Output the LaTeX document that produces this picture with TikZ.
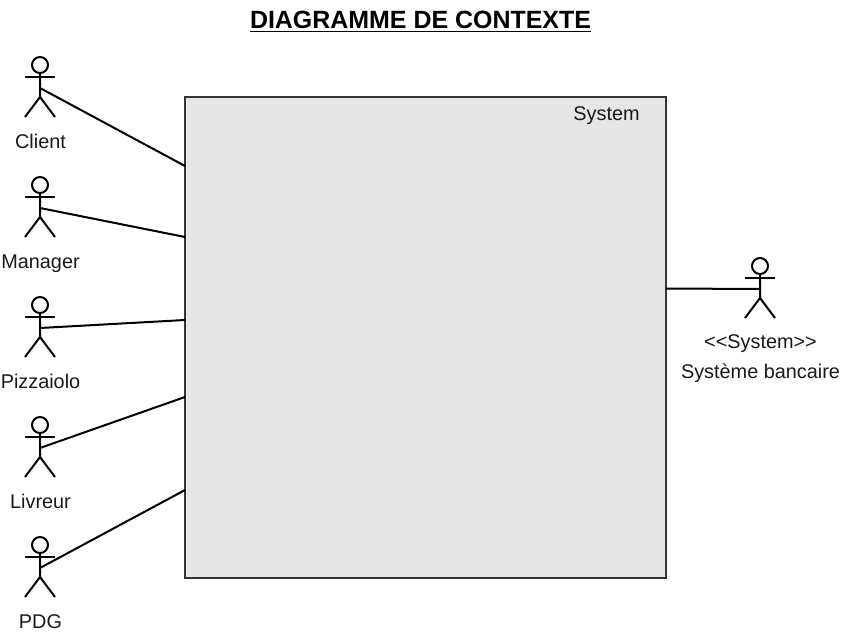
\documentclass[tikz,border=0pt]{standalone}
\usepackage{fontspec}
\setmainfont{Liberation Sans}
\usepackage{xcolor}
\definecolor{boxgray}{HTML}{E6E6E6}
\tikzset{
    main/.style = {line width=0.4mm, black},
    lbl/.style = {font=\fontsize{11.3}{13}\selectfont, text=black!90, inner sep=0pt, anchor=base},
    actor/.pic = {
        \draw[main] (0,0) circle (8);
        \draw[main] (0,8) -- (0,32) -- (-15,52);
        \draw[main] (0,32) -- (15,52);
        \draw[main] (-15,12) -- (15,12);
        \coordinate (-hub) at (0,23);
    }
}
\begin{document}
\begin{tikzpicture}[x=0.02cm, y=-0.02cm]
    \useasboundingbox (0,0) rectangle (841,635);

    \node [font=\fontsize{14.2}{17}\selectfont\bfseries, inner sep=1pt] (title) at (420.5,21.5) {\underline{DIAGRAMME DE CONTEXTE}};

    \node [main, draw=black!80, fill=boxgray, minimum width=9.62cm, minimum height=9.62cm, outer sep=0pt] (sys) at (425.5,337.5) {};
    \node [lbl] (systxt) at (606.5,120.5) {System};

    \pic (client) at (40,65) {actor};
    \pic (manager) at (40,185) {actor};
    \pic (pizzaiolo) at (40,305) {actor};
    \pic (livreur) at (40,425) {actor};
    \pic (pdg) at (40,545) {actor};
    \pic (banque) at (760,266) {actor};

    \node [lbl] (l1) at (40.5,148) {Client};
    \node [lbl] (l2) at (40.5,268) {Manager};
    \node [lbl] (l3) at (40.5,388) {Pizzaiolo};
    \node [lbl] (l4) at (40.5,508) {Livreur};
    \node [lbl] (l5) at (40.5,628) {PDG};
    \node [lbl] (l6) at (760.5,348) {<{}<System>{}>};
    \node [lbl] (l7) at (760.5,378) {Système bancaire};

    \coordinate (p1) at (185,166);
    \coordinate (p2) at (185,237);
    \coordinate (p3) at (185,320);
    \coordinate (p4) at (185,397);
    \coordinate (p5) at (185,490);
    \coordinate (p6) at (666,288.5);

    \draw[main] (client-hub) -- (p1);
    \draw[main] (manager-hub) -- (p2);
    \draw[main] (pizzaiolo-hub) -- (p3);
    \draw[main] (livreur-hub) -- (p4);
    \draw[main] (pdg-hub) -- (p5);
    \draw[main] (banque-hub) -- (p6);

\end{tikzpicture}
\end{document}
